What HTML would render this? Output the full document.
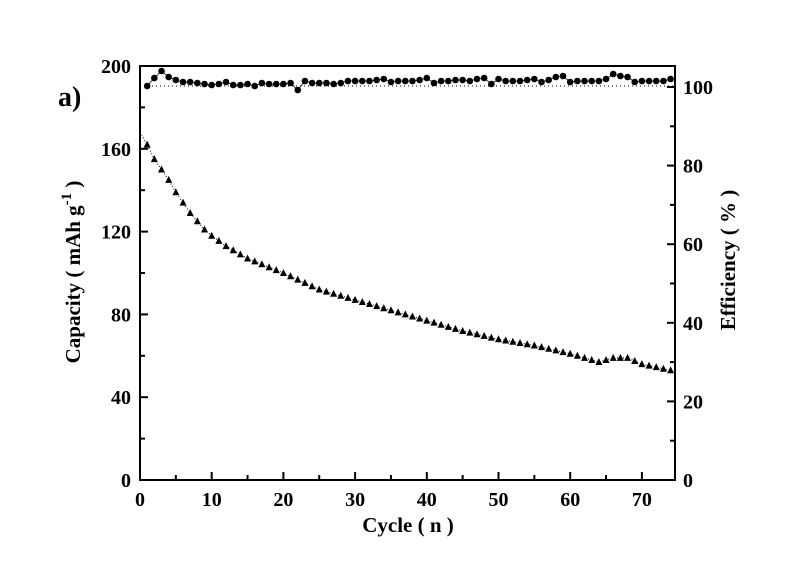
<!DOCTYPE html>
<html><head><meta charset="utf-8"><style>
html,body{margin:0;padding:0;background:#fff;}
svg{display:block;font-family:"Liberation Serif",serif;font-weight:bold;}
</style></head><body>
<svg id="s" width="785" height="577" viewBox="0 0 785 577" xmlns="http://www.w3.org/2000/svg">
<rect x="140" y="66" width="535" height="414" fill="none" stroke="#000" stroke-width="2"/>
<line x1="140" y1="86" x2="675" y2="86" stroke="#000" stroke-width="1" stroke-dasharray="1,3"/>
<g id="ticks" stroke="#000" stroke-width="2"></g>
<g id="lab" font-size="20" fill="#000"></g>
<g id="data"></g>
<text x="58" y="106" font-size="28">a)</text>
<text transform="translate(80,272) rotate(-90)" font-size="21" text-anchor="middle">Capacity ( mAh g<tspan dy="-9" font-size="15">-1</tspan><tspan dy="9"> )</tspan></text>
<text transform="translate(735,260) rotate(-90)" font-size="21" text-anchor="middle">Efficiency ( % )</text>
<text x="408" y="532" font-size="21" text-anchor="middle">Cycle ( n )</text>
</svg>
<script>
var NS="http://www.w3.org/2000/svg";
function el(p,t,a,txt){var e=document.createElementNS(NS,t);for(var k in a)e.setAttribute(k,a[k]);if(txt!=null)e.textContent=txt;document.getElementById(p).appendChild(e);return e;}
var X=function(c){return 140+c*7.17;},Y=function(v){return 480-v*2.07;},YR=function(v){return 480-v*3.93;};
for(var c=0;c<=70;c+=5){var L=c%10==0?8:5;el('ticks','line',{x1:X(c),y1:480,x2:X(c),y2:480-L});if(c%10==0)el('lab','text',{x:X(c),y:506,'text-anchor':'middle'},c);}
for(var v=0;v<=200;v+=20){var L=v%40==0?8:5;el('ticks','line',{x1:140,y1:Y(v),x2:140+L,y2:Y(v)});if(v%40==0)el('lab','text',{x:131,y:Y(v)+7,'text-anchor':'end'},v);}
for(var v=0;v<=100;v+=10){var L=v%20==0?8:5;el('ticks','line',{x1:675,y1:YR(v),x2:675-L,y2:YR(v)});if(v%20==0)el('lab','text',{x:683,y:YR(v)+7},v);}
var kp=[[0,168],[1,162],[2,155],[3,150],[4,145],[5,139],[6,134],[7,129],[8,125],[9,121],[10,118],[12,113],[15,107],[20,100],[25,92],[30,87],[35,82],[40,77],[45,72],[50,68],[55,65],[60,61],[64,57],[66,59],[68,59],[70,56],[74,53]];
function cap(c){for(var i=0;i<kp.length-1;i++){if(c<=kp[i+1][0]){var a=kp[i],b=kp[i+1];return a[1]+(b[1]-a[1])*(c-a[0])/(b[0]-a[0]);}}return 53;}
var pts=[];for(var c=0;c<=74;c++)pts.push(X(c)+','+Y(cap(c)));
el('data','polyline',{points:pts.join(' '),fill:'none',stroke:'#000','stroke-width':1,'stroke-dasharray':'1,2'});
for(var c=1;c<=74;c++){var x=X(c),y=Y(cap(c));el('data','polygon',{points:(x-3.5)+','+(y+3)+' '+(x+3.5)+','+(y+3)+' '+x+','+(y-4),fill:'#000'});}
var ey=[86,78,71,77,80,82,82,83,84,85,84,82,85,85,84,86,83,84,84,84,83,90,81,83,83,83,84,83,81,81,81,81,80,79,82,81,81,81,80,78,83,81,81,80,80,81,79,78,84,79,81,81,81,80,79,82,80,77,76,82,81,81,81,81,79,74,76,77,82,81,81,81,81,79];
var ep=[];for(var c=1;c<=74;c++)ep.push(X(c)+','+ey[c-1]);
el('data','polyline',{points:ep.join(' '),fill:'none',stroke:'#000','stroke-width':0.8});
for(var c=1;c<=74;c++)el('data','circle',{cx:X(c),cy:ey[c-1],r:3.3,fill:'#000'});
</script>
</body></html>
